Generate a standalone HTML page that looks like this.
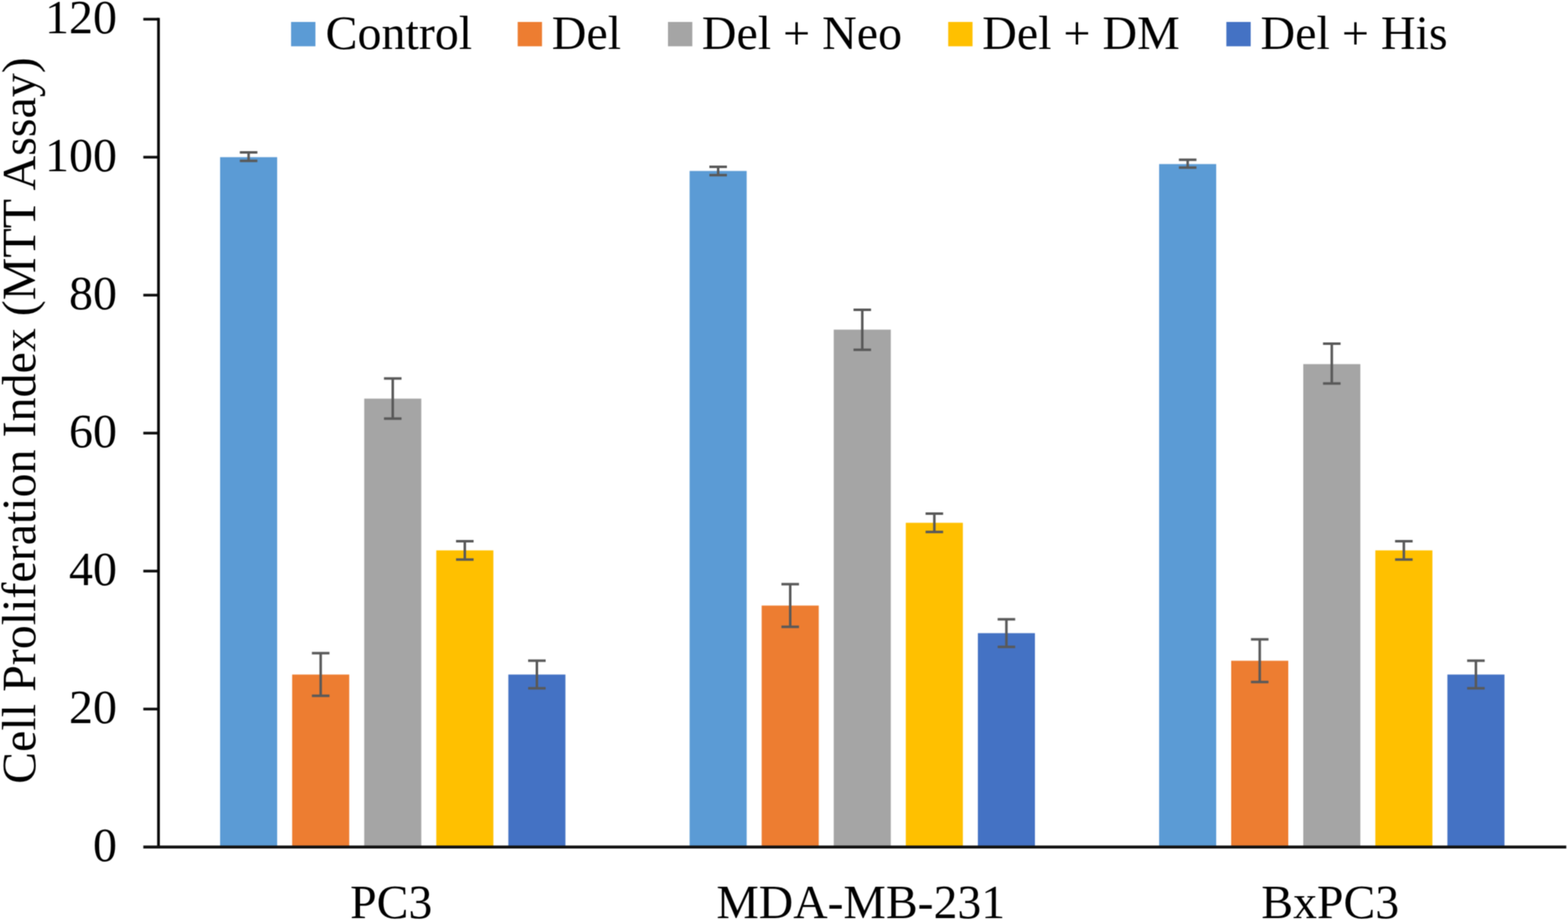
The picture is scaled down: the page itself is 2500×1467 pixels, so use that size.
<!DOCTYPE html>
<html><head><meta charset="utf-8"><title>Cell Proliferation Index (MTT Assay)</title>
<style>
html,body{margin:0;padding:0;background:#fff;}
body{width:2500px;height:1467px;overflow:hidden;}
svg{display:block;}

.t{font-family:"Liberation Serif","Times New Roman",serif;font-size:76.5px;fill:#000;}
</style></head><body>
<svg width="2500" height="1467" viewBox="0 0 2500 1467">
<defs><filter id="soft" x="0" y="0" width="2500" height="1467" filterUnits="userSpaceOnUse" color-interpolation-filters="sRGB"><feConvolveMatrix order="3" kernelMatrix="1 2 1 2 4 2 1 2 1" divisor="16" edgeMode="duplicate"/></filter></defs>
<g filter="url(#soft)">
<rect width="2500" height="1467" fill="#fff"/>
<rect x="350.90" y="250.60" width="91.00" height="1100.00" fill="#5B9BD5"/>
<rect x="465.80" y="1075.60" width="91.00" height="275.00" fill="#ED7D31"/>
<rect x="580.70" y="635.60" width="91.00" height="715.00" fill="#A5A5A5"/>
<rect x="695.60" y="877.60" width="91.00" height="473.00" fill="#FFC000"/>
<rect x="810.50" y="1075.60" width="91.00" height="275.00" fill="#4472C4"/>
<rect x="1099.50" y="272.60" width="91.00" height="1078.00" fill="#5B9BD5"/>
<rect x="1214.40" y="965.60" width="91.00" height="385.00" fill="#ED7D31"/>
<rect x="1329.30" y="525.60" width="91.00" height="825.00" fill="#A5A5A5"/>
<rect x="1444.20" y="833.60" width="91.00" height="517.00" fill="#FFC000"/>
<rect x="1559.10" y="1009.60" width="91.00" height="341.00" fill="#4472C4"/>
<rect x="1848.10" y="261.60" width="91.00" height="1089.00" fill="#5B9BD5"/>
<rect x="1963.00" y="1053.60" width="91.00" height="297.00" fill="#ED7D31"/>
<rect x="2077.90" y="580.60" width="91.00" height="770.00" fill="#A5A5A5"/>
<rect x="2192.80" y="877.60" width="91.00" height="473.00" fill="#FFC000"/>
<rect x="2307.70" y="1075.60" width="91.00" height="275.00" fill="#4472C4"/>
<path d="M396.40 243.10V256.50M382.40 243.10H410.40M382.40 256.50H410.40M511.30 1041.60V1109.60M497.30 1041.60H525.30M497.30 1109.60H525.30M626.20 603.60V667.60M612.20 603.60H640.20M612.20 667.60H640.20M741.10 862.90V892.30M727.10 862.90H755.10M727.10 892.30H755.10M856.00 1053.60V1097.60M842.00 1053.60H870.00M842.00 1097.60H870.00M1145.00 266.00V279.20M1131.00 266.00H1159.00M1131.00 279.20H1159.00M1259.90 931.60V999.60M1245.90 931.60H1273.90M1245.90 999.60H1273.90M1374.80 494.10V557.70M1360.80 494.10H1388.80M1360.80 557.70H1388.80M1489.70 818.90V848.30M1475.70 818.90H1503.70M1475.70 848.30H1503.70M1604.60 987.60V1031.60M1590.60 987.60H1618.60M1590.60 1031.60H1618.60M1893.60 254.80V267.20M1879.60 254.80H1907.60M1879.60 267.20H1907.60M2008.50 1019.60V1087.60M1994.50 1019.60H2022.50M1994.50 1087.60H2022.50M2123.40 547.90V611.50M2109.40 547.90H2137.40M2109.40 611.50H2137.40M2238.30 862.90V892.30M2224.30 862.90H2252.30M2224.30 892.30H2252.30M2353.20 1053.60V1097.60M2339.20 1053.60H2367.20M2339.20 1097.60H2367.20" stroke="#595959" stroke-width="4" fill="none"/>
<path d="M228.5 1130.60H252.7M228.5 910.60H252.7M228.5 690.60H252.7M228.5 470.60H252.7M228.5 250.60H252.7M228.5 30.60H252.7" stroke="#0a0a0a" stroke-width="4.2" fill="none"/>
<path d="M252.7 28.50V1350.60" stroke="#050505" stroke-width="4.3" fill="none"/>
<path d="M228.5 1350.60H2497.3" stroke="#121212" stroke-width="4.6" fill="none"/>
<text x="186.4" y="1373.10" text-anchor="end" class="t">0</text>
<text x="186.4" y="1153.10" text-anchor="end" class="t">20</text>
<text x="186.4" y="933.10" text-anchor="end" class="t">40</text>
<text x="186.4" y="713.10" text-anchor="end" class="t">60</text>
<text x="186.4" y="493.10" text-anchor="end" class="t">80</text>
<text x="186.4" y="273.10" text-anchor="end" class="t">100</text>
<text x="186.4" y="53.10" text-anchor="end" class="t">120</text>
<text x="623.70" y="1463.5" text-anchor="middle" class="t" style="font-size:76px">PC3</text>
<text x="1372.30" y="1463.5" text-anchor="middle" class="t" style="font-size:76px">MDA-MB-231</text>
<text x="2120.90" y="1463.5" text-anchor="middle" class="t" style="font-size:76px">BxPC3</text>
<rect x="464.10" y="35.0" width="38.8" height="38.8" fill="#5B9BD5"/>
<text x="519.00" y="77.6" class="t">Control</text>
<rect x="825.40" y="35.0" width="38.8" height="38.8" fill="#ED7D31"/>
<text x="879.80" y="77.6" class="t">Del</text>
<rect x="1065.00" y="35.0" width="38.8" height="38.8" fill="#A5A5A5"/>
<text x="1119.00" y="77.6" class="t">Del + Neo</text>
<rect x="1511.80" y="35.0" width="38.8" height="38.8" fill="#FFC000"/>
<text x="1566.00" y="77.6" class="t">Del + DM</text>
<rect x="1955.30" y="35.0" width="38.8" height="38.8" fill="#4472C4"/>
<text x="2009.80" y="77.6" class="t">Del + His</text>
<text transform="translate(55.9 670.6) rotate(-90)" text-anchor="middle" class="t">Cell Proliferation Index (MTT Assay)</text>
</g>
</svg>
</body></html>
